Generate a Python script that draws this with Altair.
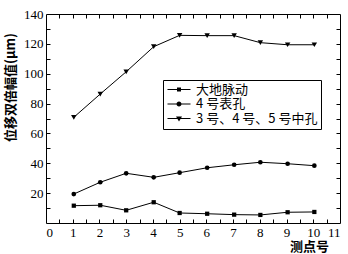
import altair as alt
import pandas as pd

# ---- data ----
points = [1.04, 2.03, 3.0, 4.03, 5.0, 6.03, 7.04, 8.02, 9.04, 10.04]
ground = [11.6, 11.9, 8.5, 13.9, 6.7, 6.2, 5.6, 5.4, 7.2, 7.4]
surface = [19.4, 27.3, 33.3, 30.6, 33.7, 37.0, 39.0, 40.7, 39.7, 38.4]
middle = [70.8, 86.4, 101.3, 118.1, 125.7, 125.5, 125.5, 120.8, 119.4, 119.4]
series_names = ["大地脉动", "4 号表孔", "3 号、4 号、5 号中孔"]
x_labels = list(range(0, 12))
y_labels = [20, 40, 60, 80, 100, 120, 140]
x_minor = [i * 0.5 for i in range(1, 22)]
y_minor = list(range(10, 140, 10))

rows = []
for name, vals in zip(series_names, [ground, surface, middle]):
    for xv, v in zip(points, vals):
        rows.append({"series": name, "x": xv, "v": v})
df = pd.DataFrame(rows)

W, H = 294, 209
FONT = "Liberation Serif"
CJK = "Noto Sans CJK SC"
xs = alt.Scale(domain=[0, 11], nice=False, zero=False)
ys = alt.Scale(domain=[0, 140], nice=False)


def tick_axis(orient, offset, values, domain):
    return alt.Axis(orient=orient, offset=offset, values=values, labels=False,
                    ticks=True, tickSize=4, tickColor="black", tickWidth=1, tickOpacity=1,
                    domain=domain, domainColor="black", domainWidth=1, grid=False)


x_main = alt.Axis(orient="bottom", values=x_labels, ticks=False, tickSize=0,
                  labelFont=FONT, labelFontSize=13, labelColor="black", labelPadding=3,
                  domain=True, domainColor="black", domainWidth=1, grid=False,
                  title="测点号", titleFont=CJK, titleFontSize=13, titleFontWeight="bold",
                  titleColor="black", titleX=263, titleY=23, titleAlign="center",
                  titleBaseline="middle", titleAngle=0)
y_main = alt.Axis(orient="left", values=y_labels, ticks=False, tickSize=0,
                  labelFont=FONT, labelFontSize=13, labelColor="black", labelPadding=3,
                  domain=True, domainColor="black", domainWidth=1, grid=False,
                  title="位移双倍幅值(μm)", titleFont=CJK, titleFontSize=13,
                  titleFontWeight="bold", titleColor="black", titleX=-36, titleY=73,
                  titleAlign="center", titleBaseline="middle", titleAngle=270)


def series_layer(name, shape, size, xaxis, yaxis, titled):
    if titled:
        xenc = alt.X("x:Q", scale=xs, axis=xaxis)
        yenc = alt.Y("v:Q", scale=ys, axis=yaxis)
    else:
        xenc = alt.X("x:Q", scale=xs, axis=xaxis, title=None)
        yenc = alt.Y("v:Q", scale=ys, axis=yaxis, title=None)
    return alt.Chart(df).transform_filter(alt.datum.series == name).mark_line(
        color="black", strokeWidth=1,
        point=alt.OverlayMarkDef(shape=shape, filled=True, fill="black", size=size, opacity=1),
    ).encode(x=xenc, y=yenc)


l1 = series_layer(series_names[0], "square", 18, x_main, y_main, True)
l2 = series_layer(series_names[1], "circle", 22,
                  tick_axis("top", -H, x_minor, False),
                  tick_axis("right", -W, y_minor, False), False)
l3 = series_layer(series_names[2], "triangle-down", 30,
                  tick_axis("bottom", -H, x_minor, True),
                  tick_axis("left", -W, y_minor, True), False)

# legend symbols (unit = 5 px): a thin filled bar (the line, 23 px long) plus
# the marker centred on it; all subpaths wound the same way
bar = "M-1,-0.1H3.6V0.1H-1Z"
paths = [
    bar + "M0.9,-0.4H1.7V0.4H0.9Z",
    bar + "M1.8,0A0.5,0.5,0,1,1,0.8,0A0.5,0.5,0,1,1,1.8,0Z",
    bar + "M0.7,-0.4L1.9,-0.4L1.3,0.6Z",
]

legend_layer = alt.Chart(df).transform_filter("false").mark_point(
    filled=True, fill="black", opacity=1, fillOpacity=1
).encode(
    shape=alt.Shape("series:N", scale=alt.Scale(domain=series_names, range=paths),
                    legend=alt.Legend(orient="none", legendX=117, legendY=66, title=None,
                                      strokeColor="black", fillColor="white", padding=3,
                                      symbolSize=100, symbolStrokeWidth=0,
                                      symbolFillColor="black",
                                      labelFont=CJK, labelFontSize=13, labelColor="black",
                                      labelOffset=17, rowPadding=0.5, cornerRadius=0))
)

chart = alt.layer(l1, l2, l3, legend_layer).resolve_axis(
    x="independent", y="independent"
).properties(
    width=W, height=H,
    autosize=alt.AutoSizeParams(type="none"),
    padding={"left": 46, "top": 14, "right": 8, "bottom": 31},
    background="white",
).configure_view(strokeWidth=0)

chart.save("out.html", embed_options={"renderer": "svg", "actions": False})
